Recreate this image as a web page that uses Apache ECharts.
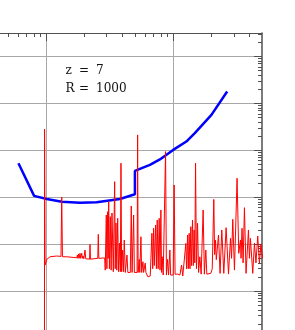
<!DOCTYPE html>
<html><head><meta charset="utf-8">
<script src="https://cdn.jsdelivr.net/npm/echarts@6/dist/echarts.min.js"></script>
<style>html,body{margin:0;padding:0;background:#fff}#c{width:295px;height:330px}</style>
</head><body><div id="c"></div>
<script>
// Sensitivity curve (blue): wavelength (micron) and limit
const sensWave = [0.606, 0.805, 1.013, 1.33, 1.85, 2.50, 3.81, 5.0, 5.0, 6.56, 7.86, 10.0, 12.7, 14.8, 20.0, 26.6];
const sensFlux = [5.3, 1.07, 0.92, 0.806, 0.767, 0.782, 0.92, 1.16, 3.64, 4.89, 6.41, 10.2, 15.4, 23.2, 57, 179];

// Model spectrum (red): wavelength (micron) and flux
const specWave = [
  0.45, 0.970, 0.973, 0.982, 1.013, 1.075, 1.21, 1.31, 1.328, 1.345, 1.454, 1.742,
  1.762, 1.78, 1.80, 1.82, 1.849, 1.87, 1.908, 1.93, 1.953, 1.98, 2.025, 2.05, 2.20, 2.216, 2.235, 2.55, 2.576, 2.60, 2.892, 2.92,
  2.977, 3.01, 3.053, 3.08, 3.108, 3.15, 3.20, 3.25, 3.30, 3.38,
  3.465, 3.50, 3.547, 3.60, 3.659, 3.72, 3.794, 3.84, 3.884, 3.93,
  4.004, 4.06, 4.122, 4.20, 4.329, 4.40, 4.60, 4.679, 4.75, 4.886,
  4.95, 5.20, 5.253, 5.30, 5.407, 5.46, 5.576, 5.65, 5.781, 5.85,
  6.026, 6.10, 6.328, 6.60, 6.804, 6.90, 7.015, 7.10, 7.274, 7.38,
  7.489, 7.62, 7.762, 7.88, 8.006, 8.10, 8.196, 8.35, 8.714, 8.85,
  9.036, 9.20, 9.421, 9.55, 9.714, 10.0, 10.18, 10.35, 10.89, 11.3,
  11.64, 11.9, 12.14, 12.58, 12.75, 12.98, 13.15, 13.36, 13.55, 13.77,
  13.95, 14.20, 14.4, 14.62, 14.8, 15.00, 15.25, 15.55, 15.85, 16.21,
  16.6, 17.21, 17.6, 18.07, 18.4, 18.83, 19.78, 20.3, 20.88, 21.2,
  21.54, 21.85, 22.16, 22.73, 23.39, 24.13, 25.02, 26.09, 27.25, 28.25,
  28.8, 29.44, 30.36, 31.83, 32.82, 33.85, 34.2, 34.83, 35.5, 36.38,
  37.45, 39.11, 39.8, 40.55, 42.28, 43.60, 44.8, 46.29, 47.73, 49.0, 50.5
];
const specFlux = [
  1e-6, 1e-6, 28.2, 0.0359, 0.0475, 0.054, 0.056, 0.055, 1.0, 0.054, 0.054, 0.0514,
  0.0587, 0.05, 0.062, 0.05, 0.0639, 0.05, 0.0639, 0.05, 0.056, 0.049, 0.0751, 0.049, 0.048, 0.0994, 0.048, 0.050, 0.162, 0.050, 0.051, 0.028,
  0.419, 0.03, 0.493, 0.05, 0.806, 0.03, 0.386, 0.028, 0.462, 0.026,
  2.15, 0.03, 0.283, 0.028, 0.356, 0.026, 0.106, 0.026, 5.31, 0.026,
  0.075, 0.026, 0.123, 0.025, 0.0587, 0.025, 0.025, 0.652, 0.025, 0.419,
  0.025, 0.025, 21.3, 0.025, 0.0475, 0.025, 0.144, 0.025, 0.0423, 0.025,
  0.0396, 0.025, 0.0202, 0.021, 0.171, 0.03, 0.218, 0.035, 0.256, 0.03,
  0.328, 0.03, 0.356, 0.028, 0.536, 0.025, 0.054, 0.022, 9.4, 0.022,
  0.0475, 0.022, 0.075, 0.022, 0.022, 0.022, 1.83, 0.023, 0.023, 0.022,
  0.036, 0.021, 0.0202, 0.104, 0.03, 0.157, 0.03, 0.171, 0.03, 0.236,
  0.035, 0.328, 0.035, 0.201, 0.04, 5.31, 0.03, 0.279, 0.025, 0.054,
  0.023, 0.536, 0.023, 0.075, 0.023, 0.0239, 0.0239, 0.03, 0.9, 0.06,
  0.123, 0.047, 0.0475, 0.157, 0.0239, 0.201, 0.0239, 0.225, 0.0231, 0.133,
  0.05, 0.339, 0.0281, 2.54, 0.0639, 0.123, 0.05, 0.218, 0.04, 0.6,
  0.0239, 0.201, 0.05, 0.133, 0.0239, 0.106, 0.04, 0.149, 0.0396, 0.1, 0.05
];

// Axis ticks
const xMajor = [0.1, 1, 10];
const xMinor = [0.2, 0.3, 0.4, 0.5, 0.6, 0.7, 0.8, 0.9, 2, 3, 4, 5, 6, 7, 8, 9, 20, 30, 40];
const yMajor = [1e-4, 1e-3, 1e-2, 0.1, 1, 10, 100, 1000];
const yMinorMult = [2, 3, 4, 5, 6, 7, 8, 9];
const yMinor = [];
yMajor.forEach(d => yMinorMult.forEach(m => { if (m * d < 3162) yMinor.push(+(m * d).toPrecision(3)); }));

// Annotation text
const annotLines = ['z = 7', 'R = 1000'];

const X_MIN = 0.1, X_MAX = 50, Y_MIN = 1e-4, Y_MAX = 3162;

const chart = echarts.init(document.getElementById('c'), null, {renderer: 'canvas'});

const axisCol = '#505050';
function xAx(pos, opts) {
  return Object.assign({type: 'log', logBase: 10, min: X_MIN, max: X_MAX, position: pos,
    axisLabel: {show: false}, splitLine: {show: false}, axisLine: {show: false}}, opts);
}
function yAx(pos, opts) {
  return Object.assign({type: 'log', logBase: 10, min: Y_MIN, max: Y_MAX, position: pos,
    axisLabel: {show: false}, splitLine: {show: false}, axisLine: {show: false}}, opts);
}

const colX = [66, 79.5, 96.5];
const graphics = [];
annotLines.forEach((ln, i) => {
  ln.split(' ').forEach((tok, j) => {
    graphics.push({type: 'text', x: colX[j] - 0.5, y: 71 + i * 18.3,
      style: {text: tok, font: '12px "DejaVu Serif"', fill: '#111', verticalAlign: 'middle', align: 'left'}});
  });
});

chart.setOption({
  animation: false,
  backgroundColor: '#fff',
  grid: {left: -81, right: 33, top: 33, bottom: -55, containLabel: false, outerBoundsMode: 'none'},
  xAxis: [
    xAx('bottom', {axisTick: {show: true, customValues: xMajor}, splitLine: {show: true, lineStyle: {color: '#a8a8a8', width: 1}}}),
    xAx('top', {axisLine: {show: true, lineStyle: {color: axisCol, width: 1}},
      axisTick: {show: true, inside: true, length: 4, customValues: xMinor, lineStyle: {color: axisCol}}}),
    xAx('top', {axisTick: {show: true, inside: true, length: 8, customValues: xMajor, lineStyle: {color: axisCol}}})
  ],
  yAxis: [
    yAx('left', {axisTick: {show: true, customValues: yMajor}, splitLine: {show: true, lineStyle: {color: '#a8a8a8', width: 1}}}),
    yAx('right', {axisLine: {show: true, lineStyle: {color: axisCol, width: 1.5}},
      axisTick: {show: true, inside: true, length: 4, customValues: yMinor, lineStyle: {color: axisCol}}}),
    yAx('right', {axisTick: {show: true, inside: true, length: 8, customValues: yMajor, lineStyle: {color: axisCol}}})
  ],
  series: [
    {type: 'line', xAxisIndex: 0, yAxisIndex: 0, showSymbol: false, symbol: 'none',
      data: sensWave.map((w, i) => [w, sensFlux[i]]),
      lineStyle: {color: '#0000ff', width: 2.5}, z: 3},
    {type: 'line', xAxisIndex: 0, yAxisIndex: 0, showSymbol: false, symbol: 'none',
      data: specWave.map((w, i) => [w, specFlux[i]]),
      lineStyle: {color: '#ff0000', width: 1}, z: 4}
  ],
  graphic: graphics
});
</script>
</body></html>
